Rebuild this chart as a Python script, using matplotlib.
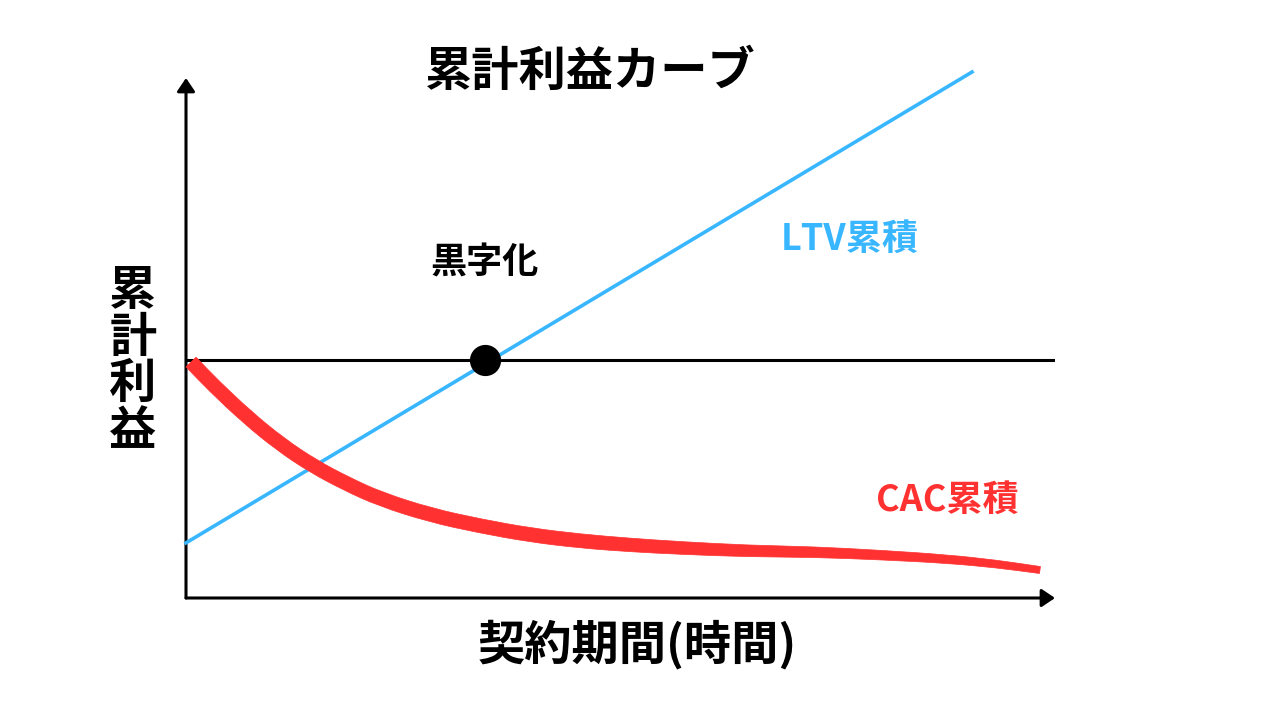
import numpy as np
import matplotlib
matplotlib.use('Agg')
import matplotlib.pyplot as plt
from matplotlib.path import Path
from matplotlib.patches import PathPatch

plt.rcParams['font.family'] = ['Noto Sans CJK JP', 'DejaVu Sans']

# ---- text ----
title = '累計利益カーブ'
xlabel = '契約期間(時間)'
ylabel = '累計利益'
breakeven_label = '黒字化'
ltv_label = 'LTV累積'
cac_label = 'CAC累積'

# ---- data ----
breakeven_y = 4.58
breakeven_x = 3.44

ltv_x = [0.0, 9.045]
ltv_y = [1.06, 10.115]

cac_x = [0.058, 0.311, 0.702, 1.082, 1.461, 1.853, 2.232, 2.808, 3.383,
         3.959, 4.534, 5.109, 5.685, 6.456, 7.215, 7.986, 8.757, 9.333, 9.827]
cac_y = [4.538, 4.096, 3.481, 2.962, 2.538, 2.192, 1.904, 1.596, 1.385,
         1.212, 1.096, 1.019, 0.962, 0.904, 0.885, 0.827, 0.750, 0.654, 0.538]

BLUE = '#38b6ff'
RED = '#ff3131'

fig = plt.figure(figsize=(12.8, 7.2), dpi=100)
ax = fig.add_axes([186 / 1280, 122 / 720, 869 / 1280, 520 / 720])
ax.set_xlim(0, 10)
ax.set_ylim(0, 10)
ax.axis('off')

# axes arrows
arrow_style = '-|>,head_length=0.8,head_width=0.54'
ax.annotate('', xy=(10, 0), xytext=(0, 0),
            arrowprops=dict(arrowstyle=arrow_style, lw=2.2, color='black',
                            shrinkA=0, shrinkB=0), annotation_clip=False)
ax.annotate('', xy=(0, 10), xytext=(0, 0),
            arrowprops=dict(arrowstyle=arrow_style, lw=2.2, color='black',
                            shrinkA=0, shrinkB=0), annotation_clip=False)

# breakeven line
ax.plot([0, 10], [breakeven_y, breakeven_y], color='black', lw=2.2,
        solid_capstyle='butt', zorder=2)

# LTV line
ax.plot(ltv_x, ltv_y, color=BLUE, lw=2.6, clip_on=False, zorder=3)

# CAC tapered curve (smooth outline through offset edges)
pts = ax.transData.transform(np.column_stack([cac_x, cac_y]))
d = np.gradient(pts, axis=0)
t = d / np.linalg.norm(d, axis=1)[:, None]
n = np.column_stack([-t[:, 1], t[:, 0]])
xs = np.asarray(cac_x)
x_taper = 4.76
w_px = np.where(xs < x_taper, 14.0,
                14.0 - (xs - x_taper) / (xs[-1] - x_taper) * 7.0)
half = (w_px / 2)[:, None]
upper = pts + n * half
lower = (pts - n * half)[::-1]


def smooth_edge(p, start_code):
    verts = [p[0], (p[0] + p[1]) / 2]
    codes = [start_code, Path.LINETO]
    for i in range(1, len(p) - 1):
        verts += [p[i], (p[i] + p[i + 1]) / 2]
        codes += [Path.CURVE3, Path.CURVE3]
    verts.append(p[-1])
    codes.append(Path.LINETO)
    return verts, codes


v1, c1 = smooth_edge(upper, Path.MOVETO)
v2, c2 = smooth_edge(lower, Path.LINETO)
verts = np.array(v1 + v2 + [upper[0]])
codes = c1 + c2 + [Path.CLOSEPOLY]
verts_data = ax.transData.inverted().transform(verts)
ax.add_patch(PathPatch(Path(verts_data, codes), facecolor=RED, edgecolor=RED,
                       lw=0.5, zorder=4, clip_on=False))

# breakeven dot
ax.scatter([breakeven_x], [breakeven_y], s=460, color='black', zorder=5,
           clip_on=False)

# labels in chart
ax.text(3.44, 6.44, breakeven_label, fontsize=26, fontweight='bold',
        ha='center', va='center', color='black')
ax.text(7.64, 6.90, ltv_label, fontsize=26, fontweight='bold',
        ha='center', va='center', color=BLUE)
ax.text(8.76, 1.88, cac_label, fontsize=26, fontweight='bold',
        ha='center', va='center', color=RED)

# title and axis labels
fig.text(590 / 1280, 1 - 72 / 720, title, fontsize=34, fontweight='bold',
         ha='center', va='center')
fig.text(637 / 1280, 1 - 645 / 720, xlabel, fontsize=34, fontweight='bold',
         ha='center', va='center')
fig.text(133 / 1280, 1 - 361 / 720, '\n'.join(ylabel), fontsize=34,
         fontweight='bold', ha='center', va='center', linespacing=0.96)

fig.savefig('out.png', dpi=100)
